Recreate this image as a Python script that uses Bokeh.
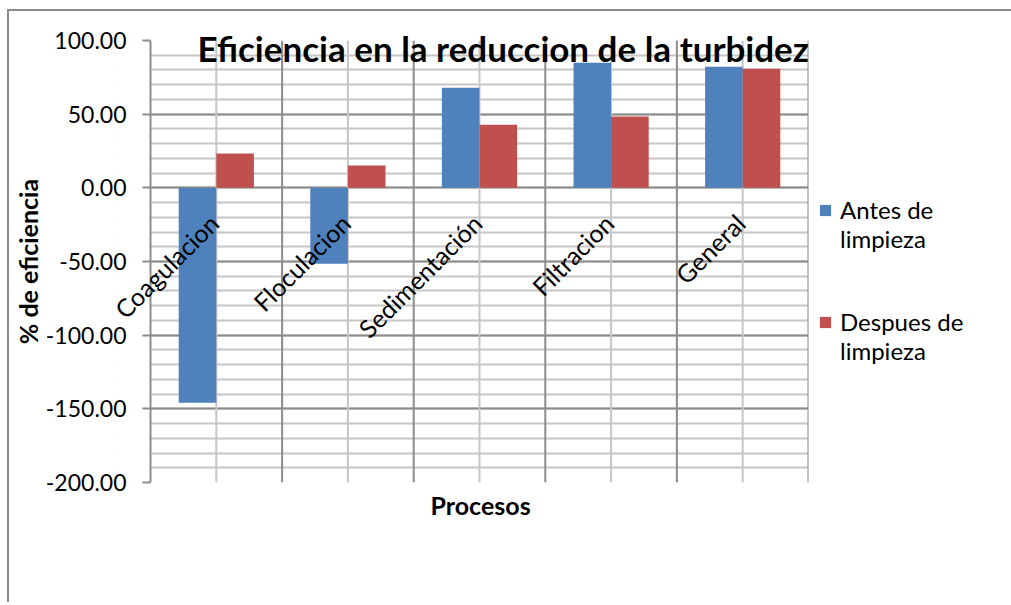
from math import pi
from bokeh.plotting import figure
from bokeh.models import (Range1d, SingleIntervalTicker, NumeralTickFormatter, BoxAnnotation,
                          Span, Legend, LegendItem, Title, ColumnDataSource)
from bokeh.transform import dodge
from bokeh.core.properties import value
from bokeh.embed import file_html
from bokeh.resources import INLINE

# ---- data ----
categories = ["Coagulacion", "Floculacion", "Sedimentación", "Filtracion", "General"]
antes = [-145.9, -51.6, 67.9, 84.9, 82.1]
despues = [23.3, 15.2, 42.8, 48.4, 80.8]
series_names = ["Antes de\nlimpieza", "Despues de\nlimpieza"]
title_text = "Eficiencia en la reduccion de la turbidez"
x_title = "Procesos"
y_title = "% de eficiencia"
y_start, y_end, y_step = -200, 100, 50

BLUE = "#4F81BD"
RED = "#C0504D"
MAJOR = "#8c8c8c"
MINOR = "#c6c6c6"
FONT = "Lato"

n = len(categories)
centers = [i + 0.5 for i in range(n)]
src = ColumnDataSource(dict(cat=categories, xc=centers, antes=antes, despues=despues))

CAT_PX = 131.6          # pixel width of one category slot
LEFT_PAD_PX = 36        # room left of the first slot for the rotated first label
x_start = -LEFT_PAD_PX / CAT_PX

p = figure(x_range=Range1d(x_start, n), y_range=Range1d(y_start, y_end),
           frame_width=int(round(CAT_PX * n + LEFT_PAD_PX)), frame_height=442,
           output_backend="svg", toolbar_location=None, x_axis_location=None,
           min_border_left=105, min_border_top=29, min_border_right=190, min_border_bottom=120)
p.styles = {"margin-left": "7px", "margin-top": "9px",
            "border-top": "2px solid #8c8c8c", "border-left": "2px solid #8c8c8c"}
p.outline_line_color = None
p.background_fill_color = "white"

# y grid
tk = SingleIntervalTicker(interval=y_step, num_minor_ticks=5)
p.yaxis.ticker = tk
p.ygrid.ticker = tk
p.ygrid.grid_line_color = MAJOR
p.ygrid.grid_line_width = 2
p.ygrid.minor_grid_line_color = MINOR
p.ygrid.minor_grid_line_width = 2

# blank strip left of the first category slot (room for the first rotated label)
p.add_layout(BoxAnnotation(right=0, fill_color="white", fill_alpha=1, line_color=None, level="underlay"))
# vertical lines: light at slot centres, dark at slot boundaries
for c in centers:
    p.add_layout(Span(location=c, dimension="height", line_color=MINOR, line_width=2, level="underlay"))
for i in range(n + 1):
    p.add_layout(Span(location=i, dimension="height", line_color=MAJOR, line_width=2, level="underlay"))

bw = 1.0 / 3.5
r1 = p.vbar(x=dodge("xc", -bw / 2), top="antes", bottom=0, width=bw,
            source=src, fill_color=BLUE, line_color=None)
r2 = p.vbar(x=dodge("xc", bw / 2), top="despues", bottom=0, width=bw,
            source=src, fill_color=RED, line_color=None)

# y axis
p.yaxis.formatter = NumeralTickFormatter(format="0.00")
p.yaxis.minor_tick_line_color = None
p.yaxis.minor_tick_out = 0
p.yaxis.minor_tick_in = 0
p.yaxis.axis_line_color = None
p.yaxis.major_tick_out = -28
p.yaxis.major_tick_in = 36
p.yaxis.major_tick_line_color = MAJOR
p.yaxis.major_tick_line_width = 2
p.yaxis.major_label_text_font = FONT
p.yaxis.major_label_text_font_size = "23px"
p.yaxis.major_label_text_color = "black"
p.yaxis.major_label_standoff = -12
p.yaxis.axis_label = y_title
p.yaxis.axis_label_text_font = FONT
p.yaxis.axis_label_text_font_style = "bold"
p.yaxis.axis_label_text_font_size = "25px"
p.yaxis.axis_label_text_color = "black"
p.yaxis.axis_label_standoff = 0

# category labels hanging below the zero line
p.text(x="xc", y=0, text="cat", source=src, angle=pi / 4, text_align="right",
       text_baseline="top", x_offset=-13, y_offset=20, text_font=value(FONT),
       text_font_size="25px", text_color="black")

p.add_layout(Title(text=x_title, align="left", offset=316, text_font=FONT, text_font_size="25px",
                   text_font_style="bold", text_color="black", standoff=10), "below")

p.add_layout(Title(text=title_text, align="left", offset=83, text_font=FONT,
                   text_font_size="35px", text_font_style="bold", text_color="black",
                   standoff=-57), "above")

# a leading blank line keeps each swatch level with the first line of its label
legend = Legend(items=[LegendItem(label=" \n" + series_names[0], renderers=[r1]),
                       LegendItem(label=" \n" + series_names[1], renderers=[r2])],
                location=(10, 117), glyph_width=14, glyph_height=14, spacing=25,
                label_text_font=FONT, label_text_font_size="24px", label_standoff=8,
                label_text_color="black",
                border_line_color=None, background_fill_alpha=0, padding=0, margin=0)
p.add_layout(legend, "right")

open("out.html", "w").write(file_html(p, INLINE))
